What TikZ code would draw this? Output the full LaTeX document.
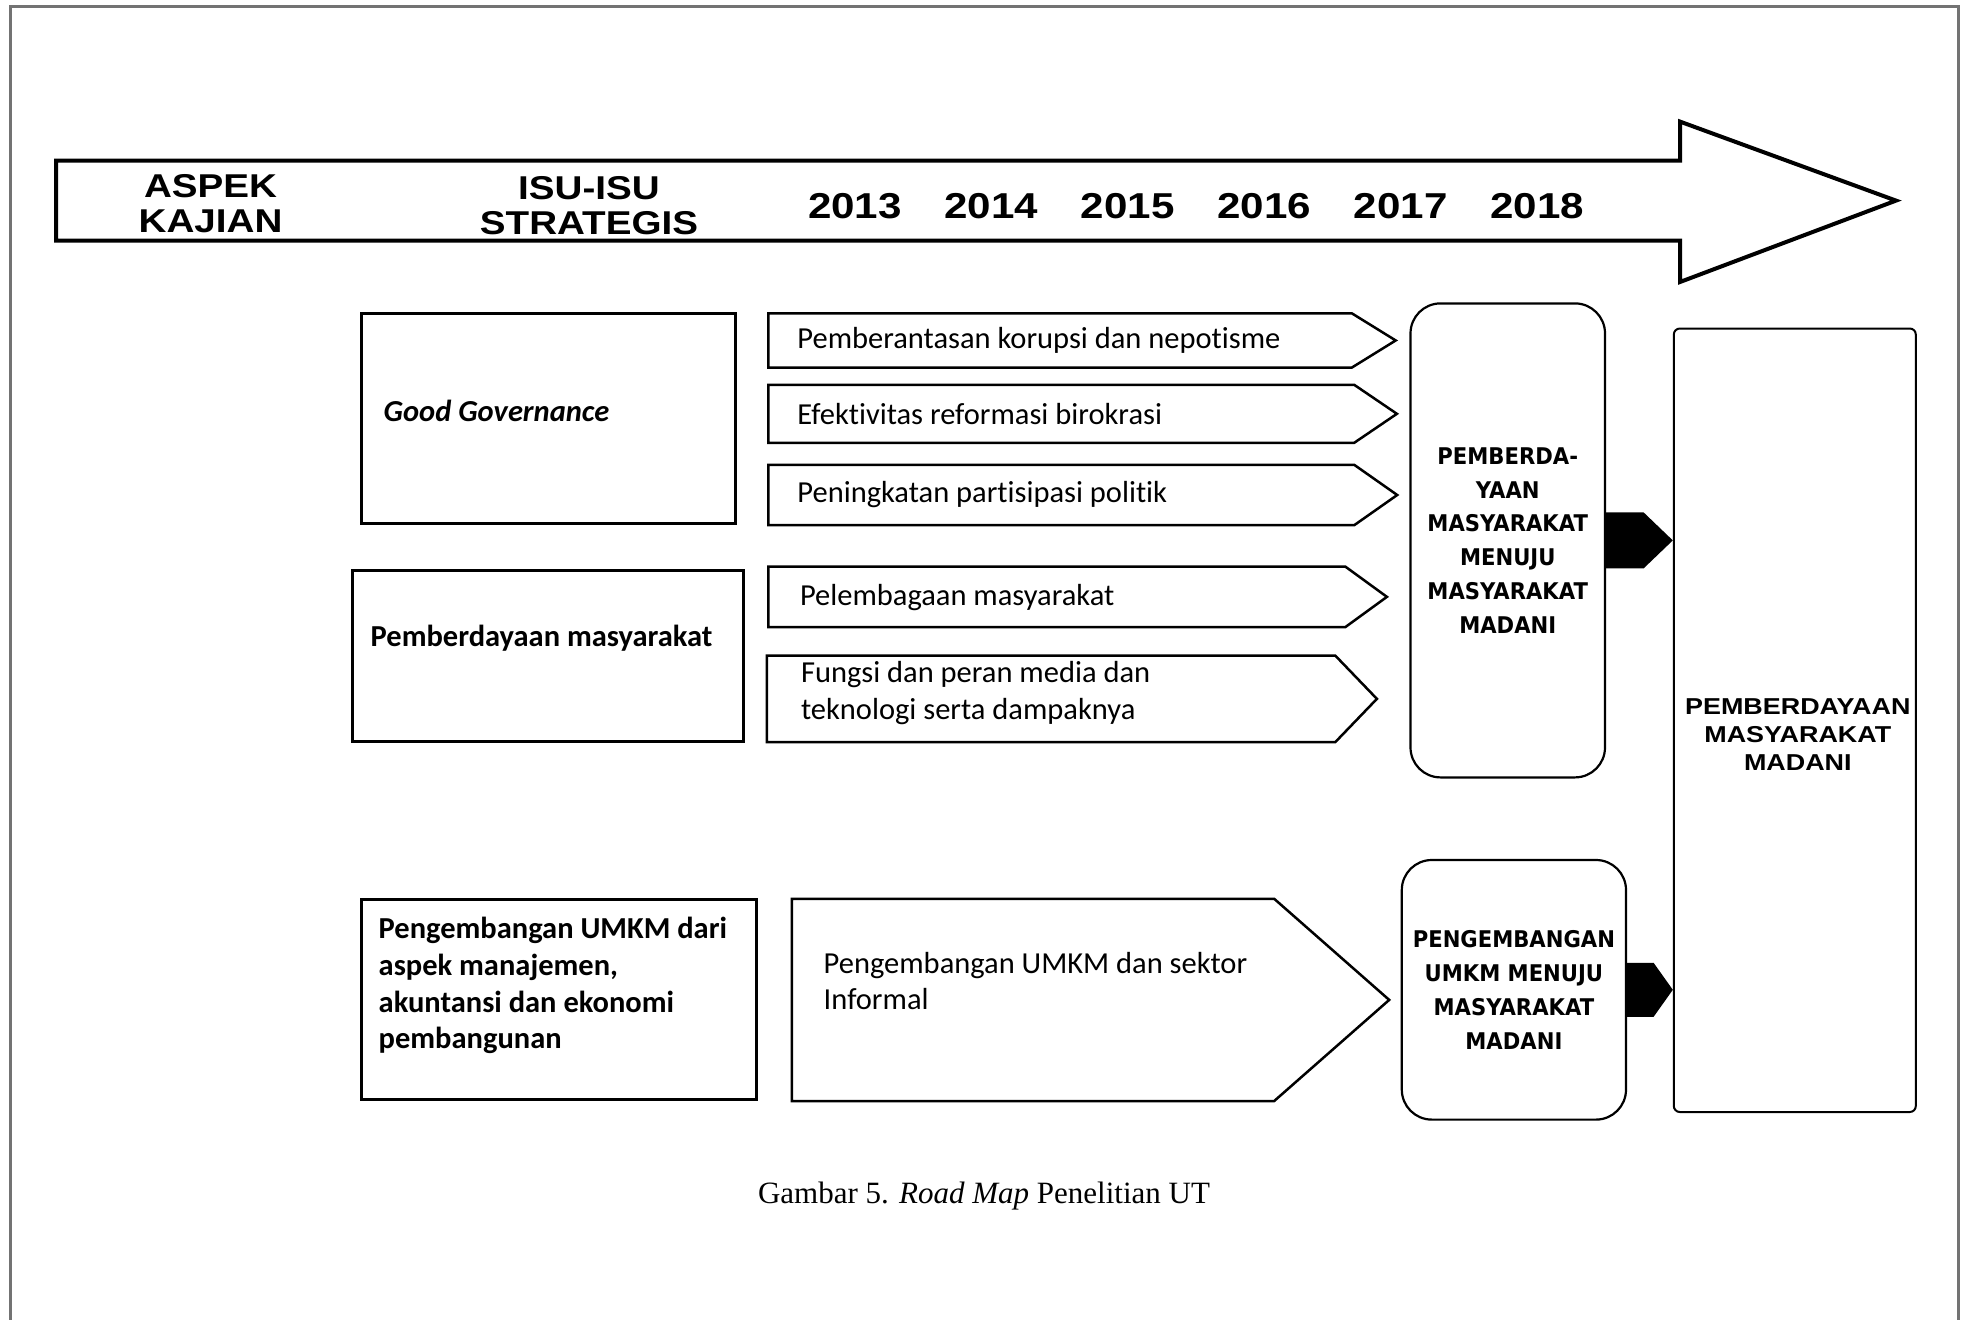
\documentclass[tikz,border=0pt]{standalone}
\usepackage{fontspec}
\setmainfont[Ligatures=NoCommon]{Carlito}
\newfontfamily\headfont[FakeStretch=1.17]{Liberation Sans}
\newfontfamily\boxfont[FakeStretch=0.92]{DejaVu Sans}
\newfontfamily\capfont{Liberation Serif}
\usetikzlibrary{positioning}

\tikzset{
  aspek/.style={font=\bfseries\fontsize{30.5}{36.7}\selectfont, align=left, inner sep=0pt},
  isu/.style={inner sep=0pt},
  isuline/.style={line width=2.5pt, line join=miter},
  isutext/.style={font=\fontsize{30.5}{36.5}\selectfont, align=left, inner sep=0pt},
  kotak/.style={draw, line width=3pt, inner sep=0pt},
  capai/.style={draw, line width=2.2pt, rounded corners=30pt, inner sep=0pt, align=center,
    font=\boxfont\bfseries\fontsize{23}{33.8}\selectfont},
  head/.style={font=\headfont\bfseries\fontsize{33}{35}\selectfont, align=center, inner sep=0pt},
  tahun/.style={font=\headfont\bfseries\fontsize{36}{36}\selectfont, inner sep=0pt}
}

\begin{document}
\begin{tikzpicture}[x=1pt,y=1pt]
    \useasboundingbox (0,0) rectangle (1966,-1320);
    \draw[black!55, line width=3pt] (10,-1320) -- (10,-6) -- (1958,-6) -- (1958,-1320);

    \draw[line width=4pt, line join=miter] (56,-160.5) -- (1680,-160.5) -- (1680,-121.6) -- (1896,-200.6)
        -- (1680,-282) -- (1680,-240.7) -- (56,-240.7) -- cycle;
    \node[head] (aspek) at (210.6,-204) {ASPEK\\KAJIAN};
    \node[head] (isu) at (589,-206) {ISU-ISU\\STRATEGIS};
    \foreach \yr [count=\i from 0] in {2013,2014,2015,2016,2017,2018}
        \node[tahun] (t\yr) at (855+136.4*\i,-206) {\yr};

    \node[kotak, minimum width=374pt, minimum height=209.5pt] (gg) at (548,-418.25) {};
    \node[aspek, right=24pt of gg.west, yshift=7pt] (gg-t) {\itshape Good Governance};
    \node[kotak, minimum width=391.5pt, minimum height=170.5pt] (pm) at (547.75,-655.75) {};
    \node[aspek, right=20pt of pm.west, yshift=17.5pt] (pm-t) {Pemberdayaan masyarakat};
    \node[kotak, minimum width=395pt, minimum height=200.6pt] (um) at (558.5,-999.3) {};
    \node[aspek, right=19pt of um.west, yshift=13.5pt] (um-t) {Pengembangan UMKM dari\\aspek manajemen,\\akuntansi dan ekonomi\\pembangunan};

    \node[isu, minimum width=583pt, minimum height=53.9pt] (i1) at (1060.1,-340.45) {};
    \node[isu, minimum width=585.4pt, minimum height=57.6pt] (i2) at (1061.3,-413.8) {};
    \node[isu, minimum width=585.4pt, minimum height=60pt] (i3) at (1061.3,-495) {};
    \node[isu, minimum width=576.4pt, minimum height=60.3pt] (i4) at (1056.8,-596.85) {};
    \node[isu, minimum width=568pt, minimum height=86.3pt] (i5) at (1051,-698.85) {};
    \node[isu, minimum width=482pt, minimum height=201.8pt] (i6) at (1033,-999.9) {};
    \foreach \n/\t in {i1/43.9,i2/42.7,i3/43,i4/41.7,i5/41.7,i6/115}
        \draw[isuline] (\n.north west) -- (\n.north east) -- ([xshift=\t pt]\n.east)
            -- (\n.south east) -- (\n.south west) -- cycle;
    \node[isutext, right=28.8pt of i1.west] (i1-t) {Pemberantasan korupsi dan nepotisme};
    \node[isutext, right=28.8pt of i2.west] (i2-t) {Efektivitas reformasi birokrasi};
    \node[isutext, right=28.8pt of i3.west] (i3-t) {Peningkatan partisipasi politik};
    \node[isutext, right=31.4pt of i4.west, yshift=-1pt] (i4-t) {Pelembagaan masyarakat};
    \node[isutext, right=34pt of i5.west, yshift=6pt] (i5-t) {Fungsi dan peran media dan\\teknologi serta dampaknya};
    \node[isutext, right=31.7pt of i6.west, yshift=19pt] (i6-t) {Pengembangan UMKM dan sektor\\Informal};

    \node[capai, minimum width=194.5pt, minimum height=474pt] (mA) at (1507.75,-540.4)
        {PEMBERDA-\\YAAN\\MASYARAKAT\\MENUJU\\MASYARAKAT\\MADANI};
    \node[capai, minimum width=224.2pt, minimum height=259.6pt] (mB) at (1513.9,-989.8)
        {PENGEMBANGAN\\UMKM MENUJU\\MASYARAKAT\\MADANI};
    \node[draw, line width=2pt, rounded corners=6pt, minimum width=242pt, minimum height=783.5pt] (mC) at (1794.8,-720.25) {};
    \node[head, font=\headfont\bfseries\fontsize{23}{28}\selectfont] (mC-t) at ([xshift=3pt,yshift=-14pt]mC.center)
        {PEMBERDAYAAN\\MASYARAKAT\\MADANI};

    \fill ([yshift=28pt]mA.east) -- ++(37.5,0) -- (mA.east -| mC.west) -- ([xshift=37.5pt,yshift=-28pt]mA.east)
        -- ([yshift=-28pt]mA.east) -- cycle;
    \fill ([yshift=27pt]mB.east) -- ++(26.5,0) -- (mB.east -| mC.west) -- ([xshift=26.5pt,yshift=-27pt]mB.east)
        -- ([yshift=-27pt]mB.east) -- cycle;

    \node[font=\capfont\fontsize{31}{36}\selectfont, inner sep=0pt] (cap) at (984,-1196)
        {Gambar 5. \textit{Road Map} Penelitian UT};
\end{tikzpicture}
\end{document}
